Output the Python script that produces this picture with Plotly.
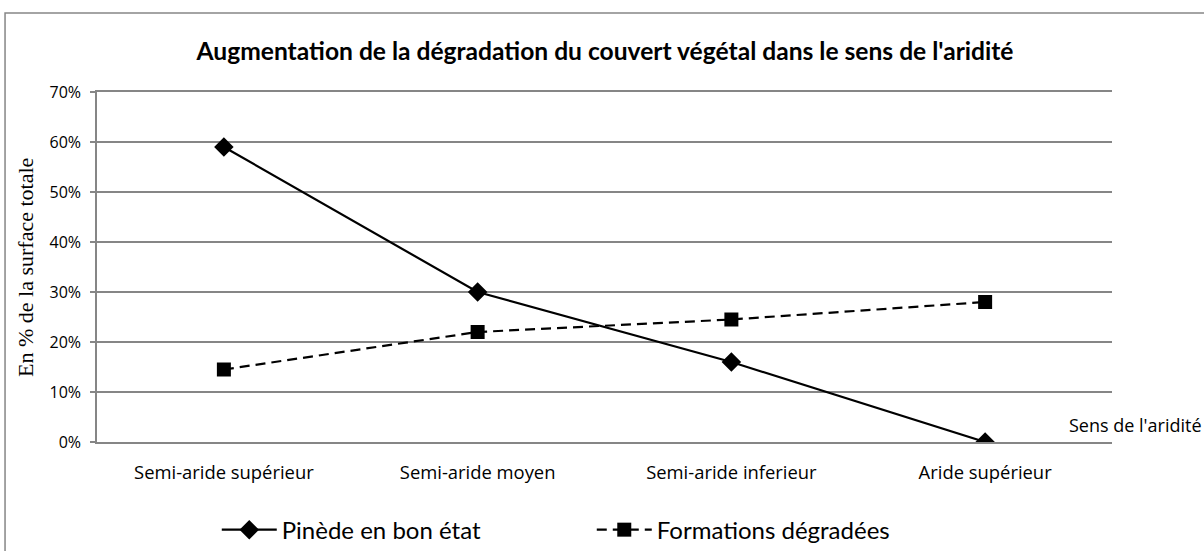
import plotly.graph_objects as go

categories = ["Semi-aride supérieur", "Semi-aride moyen", "Semi-aride inferieur", "Aride supérieur"]
pinede = [0.59, 0.30, 0.16, 0.00]
formations = [0.145, 0.22, 0.245, 0.28]
y_ticks = [0, 0.1, 0.2, 0.3, 0.4, 0.5, 0.6, 0.7]
y_tick_labels = ["0%", "10%", "20%", "30%", "40%", "50%", "60%", "70%"]

GRID = "#868686"

fig = go.Figure()
fig.add_trace(go.Scatter(
    x=categories, y=pinede, name="Pinède en bon état",
    mode="lines+markers",
    line=dict(color="black", width=2.2),
    marker=dict(symbol="diamond", size=15, color="black"),
))
fig.add_trace(go.Scatter(
    x=categories, y=formations, name="Formations dégradées",
    mode="lines+markers",
    line=dict(color="black", width=2.2, dash="10px,6px"),
    marker=dict(symbol="square", size=14, color="black"),
))

fig.update_layout(
    width=1204, height=551,
    margin=dict(l=97, r=92, t=92, b=109, autoexpand=False),
    paper_bgcolor="white", plot_bgcolor="white",
    font=dict(family="Open Sans, sans-serif", color="black"),
    title=dict(
        text="<b>Augmentation de la dégradation du couvert végétal dans le sens de l'aridité</b>",
        x=0.5025, xref="container", xanchor="center",
        y=0.906, yref="container", yanchor="middle",
        font=dict(size=24.6, family="Lato, sans-serif", color="black"),
    ),
    xaxis=dict(
        type="category", showgrid=False, zeroline=False,
        showline=True, mirror=True, linecolor=GRID, linewidth=1.5,
        ticks="", ticklabelstandoff=13,
        tickfont=dict(size=18.4, family="Open Sans, sans-serif"),
        range=[-0.5, 3.5],
    ),
    yaxis=dict(
        range=[0, 0.7], tickvals=y_ticks, ticktext=y_tick_labels,
        showgrid=True, gridcolor=GRID, gridwidth=1.5,
        showline=True, linecolor=GRID, linewidth=1.5,
        ticks="outside", ticklen=5, tickcolor=GRID, tickwidth=1.5,
        ticklabelstandoff=6,
        tickfont=dict(size=16, family="Open Sans, sans-serif"),
        zeroline=False,
    ),
    legend=dict(
        orientation="h", xref="paper", x=0.118, xanchor="left",
        yref="container", y=0.038, yanchor="middle",
        font=dict(size=24, family="Lato, sans-serif"),
        itemwidth=55, entrywidthmode="pixels", entrywidth=305,
    ),
    showlegend=True,
)

# Outer chart frame
fig.add_shape(type="rect", xref="paper", yref="paper",
              x0=-0.0906, y0=-0.5, x1=1.2, y1=1.2257,
              line=dict(color=GRID, width=1.5), fillcolor="rgba(0,0,0,0)",
              layer="below")

# Vertical axis title
fig.add_annotation(text="En % de la surface totale", xref="paper", yref="paper",
                   x=-0.071, y=0.5, xanchor="center", yanchor="middle",
                   textangle=-90, showarrow=False,
                   font=dict(size=22, family="Liberation Serif, serif"))

# Direction label next to the horizontal axis
fig.add_annotation(text="Sens de l'aridité", xref="paper", yref="paper",
                   x=1.0, y=0.05, xanchor="left", yanchor="middle", xshift=-45,
                   showarrow=False, font=dict(size=18, family="Open Sans, sans-serif"))

fig.write_html("out.html")
